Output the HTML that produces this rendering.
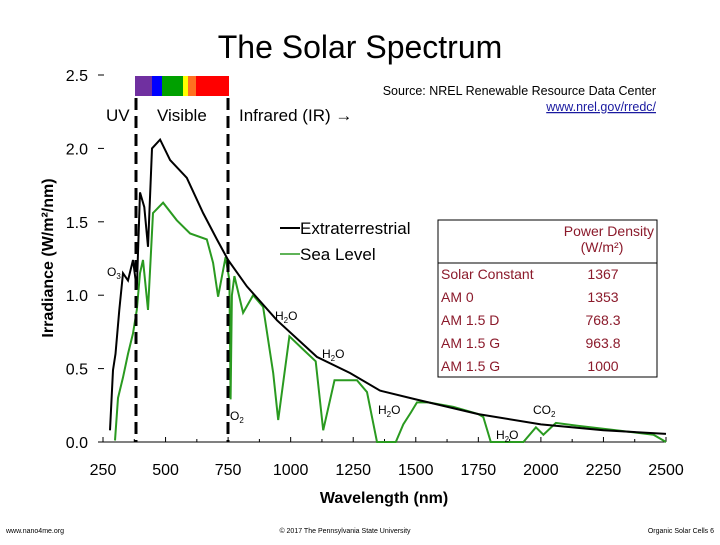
<!DOCTYPE html>
<html><head><meta charset="utf-8"><style>
body{margin:0;background:#fff;width:720px;height:540px;overflow:hidden;font-family:"Liberation Sans",sans-serif}
svg text{font-family:"Liberation Sans",sans-serif}
</style></head><body>
<svg id="chart" width="720" height="540" xmlns="http://www.w3.org/2000/svg">
<text x="360" y="58" text-anchor="middle" font-size="32">The Solar Spectrum</text>
<g id="spectrum-bar">
<rect x="135" y="76" width="17" height="20" fill="#7030a0"/>
<rect x="152" y="76" width="10" height="20" fill="#0000ff"/>
<rect x="162" y="76" width="21" height="20" fill="#00a000"/>
<rect x="183" y="76" width="5" height="20" fill="#ffff00"/>
<rect x="188" y="76" width="8" height="20" fill="#ff7020"/>
<rect x="196" y="76" width="33" height="20" fill="#ff0000"/>
</g>
<text x="106" y="121" font-size="17">UV</text>
<text x="157" y="121" font-size="17">Visible</text>
<text x="239" y="121" font-size="17">Infrared (IR) →</text>
<text x="656" y="95" text-anchor="end" font-size="12.5">Source: NREL Renewable Resource Data Center</text>
<text x="656" y="111" text-anchor="end" font-size="12.5" fill="#1a1aa0" text-decoration="underline">www.nrel.gov/rredc/</text>
<text transform="translate(53,258) rotate(-90)" text-anchor="middle" font-size="16" font-weight="bold">Irradiance (W/m²/nm)</text>
<text x="384" y="503" text-anchor="middle" font-size="16" font-weight="bold">Wavelength (nm)</text>
<g id="axes"></g>
<g id="series"></g>
<line x1="136" y1="98" x2="136" y2="442" stroke="#000" stroke-width="3" stroke-dasharray="12,6"/>
<line x1="228" y1="98" x2="228" y2="442" stroke="#000" stroke-width="3" stroke-dasharray="12,6"/>
<g>
<line x1="280" y1="228" x2="300" y2="228" stroke="#000" stroke-width="2"/>
<text x="300" y="234" font-size="17">Extraterrestrial</text>
<line x1="280" y1="254" x2="300" y2="254" stroke="#2a9a20" stroke-width="1.5"/>
<text x="300" y="260" font-size="17">Sea Level</text>
</g>
<g font-size="14" fill="#8b1a2b">
<rect x="438" y="220" width="219" height="157" fill="none" stroke="#000" stroke-width="1"/>
<line x1="438" y1="263" x2="657" y2="263" stroke="#000"/>
<text x="654" y="236" text-anchor="end" fill="#8b1a2b">Power Density</text>
<text x="602" y="252" text-anchor="middle" fill="#8b1a2b">(W/m²)</text>
<text x="441" y="279" fill="#8b1a2b">Solar Constant</text><text x="603" y="279" text-anchor="middle" fill="#8b1a2b">1367</text>
<text x="441" y="302" fill="#8b1a2b">AM 0</text><text x="603" y="302" text-anchor="middle" fill="#8b1a2b">1353</text>
<text x="441" y="325" fill="#8b1a2b">AM 1.5 D</text><text x="603" y="325" text-anchor="middle" fill="#8b1a2b">768.3</text>
<text x="441" y="348" fill="#8b1a2b">AM 1.5 G</text><text x="603" y="348" text-anchor="middle" fill="#8b1a2b">963.8</text>
<text x="441" y="371" fill="#8b1a2b">AM 1.5 G</text><text x="603" y="371" text-anchor="middle" fill="#8b1a2b">1000</text>
</g>
<g font-size="12">
<text x="107" y="276">O<tspan font-size="8" dy="3">3</tspan></text>
<text x="230" y="420">O<tspan font-size="8" dy="3">2</tspan></text>
<text x="275" y="320">H<tspan font-size="8" dy="3">2</tspan><tspan dy="-3">O</tspan></text>
<text x="322" y="358">H<tspan font-size="8" dy="3">2</tspan><tspan dy="-3">O</tspan></text>
<text x="378" y="414">H<tspan font-size="8" dy="3">2</tspan><tspan dy="-3">O</tspan></text>
<text x="496" y="439">H<tspan font-size="8" dy="3">2</tspan><tspan dy="-3">O</tspan></text>
<text x="533" y="414">CO<tspan font-size="8" dy="3">2</tspan></text>
</g>
<text x="6" y="533" font-size="7">www.nano4me.org</text>
<text x="345" y="533" text-anchor="middle" font-size="7">© 2017 The Pennsylvania State University</text>
<text x="714" y="533" text-anchor="end" font-size="7">Organic Solar Cells 6</text>
</svg>
<script>
const xTicks=[250,500,750,1000,1250,1500,1750,2000,2250,2500];
const yTicks=[0,0.5,1,1.5,2,2.5];
const yTickLabels=["0.0","0.5","1.0","1.5","2.0","2.5"];
const etWavelength=[278,290,300,315,330,350,370,385,398,415,430,446,478,518,585,650,705,750,825,945,1105,1237,1357,1500,1750,2000,2250,2500];
const etIrradiance=[0.08,0.49,0.6,0.9,1.15,1.1,1.24,1.04,1.70,1.6,1.33,2.0,2.06,1.92,1.8,1.56,1.38,1.24,1.06,0.83,0.58,0.47,0.35,0.29,0.19,0.12,0.08,0.055];
const slWavelength=[298,310,330,350,370,385,398,410,430,450,490,545,598,665,690,710,740,755,760,765,775,810,850,890,930,950,995,1050,1100,1130,1175,1265,1305,1345,1420,1450,1480,1505,1550,1650,1750,1770,1800,1930,1980,2010,2060,2150,2300,2450,2500];
const slIrradiance=[0.01,0.3,0.44,0.6,0.74,0.9,1.15,1.24,0.9,1.56,1.63,1.51,1.42,1.38,1.22,0.99,1.26,1.1,0.29,1.0,1.13,0.88,1.0,0.92,0.47,0.15,0.72,0.63,0.55,0.08,0.42,0.42,0.34,0.0,0.0,0.12,0.2,0.27,0.27,0.24,0.19,0.17,0.0,0.0,0.1,0.05,0.13,0.11,0.08,0.05,0.0];
const X=v=>103+(v-250)*(563/2250);
const Y=v=>442-v*146.8;
const NS="http://www.w3.org/2000/svg";
const axes=document.getElementById('axes');
function mk(tag,attrs,parent){const e=document.createElementNS(NS,tag);for(const k in attrs)e.setAttribute(k,attrs[k]);parent.appendChild(e);return e;}
const xl=mk('line',{x1:98,y1:442,x2:666,y2:442,stroke:'#000','stroke-width':1},axes);


xTicks.forEach((t,i)=>{
  const tk=mk('line',{x1:X(t),y1:442,x2:X(t),y2:437,stroke:'#000'},axes);
  
  
  if(i<xTicks.length-1){const m=mk('line',{x1:X(t+125),y1:442,x2:X(t+125),y2:439,stroke:'#000'},axes);
  
  }
  const lb=mk('text',{x:X(t),y:475,'text-anchor':'middle','font-size':16},axes);
  lb.textContent=t;
  
  
});
yTicks.forEach((t,i)=>{
  if(i>0){const tk=mk('line',{x1:98,y1:Y(t),x2:104,y2:Y(t),stroke:'#000'},axes);
  
  }
  const lb=mk('text',{x:88,y:Y(t)+6,'text-anchor':'end','font-size':16},axes);
  lb.textContent=yTickLabels[i];
  
  
});
const series=document.getElementById('series');
function path(xs,ys){return xs.map((x,i)=>(i?'L':'M')+X(x).toFixed(1)+','+Y(ys[i]).toFixed(1)).join('');}
const sl=mk('path',{d:path(slWavelength,slIrradiance),fill:'none',stroke:'#2a9a20','stroke-width':2},series);


const et=mk('path',{d:path(etWavelength,etIrradiance),fill:'none',stroke:'#000','stroke-width':2},series);


</script>
</body></html>
